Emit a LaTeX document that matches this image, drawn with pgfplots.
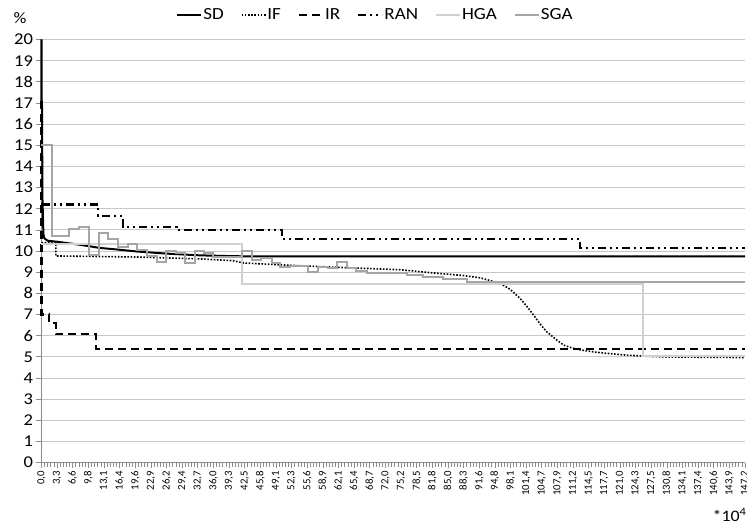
\documentclass[border=0pt]{standalone}
\usepackage{fontspec}
\setmainfont{Carlito}
\newfontfamily\widefont[FakeStretch=1.12]{Carlito}
\usepackage{pgfplots}
\pgfplotsset{compat=1.18}
\definecolor{hga}{RGB}{208,208,208}
\definecolor{sga}{RGB}{165,165,165}
\definecolor{gridc}{RGB}{200,200,200}
\definecolor{axisc}{RGB}{140,140,140}
\begin{document}
\begin{tikzpicture}
\begin{axis}[
 at={(0pt,0pt)}, anchor=south west,
 width=703.6pt, height=423.2pt, scale only axis,
 xmin=0, xmax=147.2, ymin=0, ymax=20,
 clip=false,
 axis x line*=bottom, axis y line*=left,
 axis line style={axisc, line width=1pt, -},
 ytick={0,...,20},
 ymajorgrids, major grid style={gridc, line width=1pt},
 xtick={0,3.27111,...,147.25},
 xticklabels={{0,0},{3,3},{6,6},{9,8},{13,1},{16,4},{19,6},{22,9},{26,2},{29,4},{32,7},{36,0},{39,3},{42,5},{45,8},{49,1},{52,3},{55,6},{58,9},{62,1},{65,4},{68,7},{72,0},{75,2},{78,5},{81,8},{85,0},{88,3},{91,6},{94,8},{98,1},{101,4},{104,7},{107,9},{111,2},{114,5},{117,7},{121,0},{124,3},{127,5},{130,8},{134,1},{137,4},{140,6},{143,9},{147,2}},
 minor x tick num=4,
 tick style={axisc, line width=0.8pt},
 major tick length=5pt, minor tick length=4pt,
 tick align=outside,
 xticklabel style={rotate=90, anchor=east, font=\fontsize{10.8}{12}\selectfont},
 yticklabel style={font=\widefont\fontsize{16.5}{19}\selectfont},
 /pgf/number format/assume math mode=true,
 legend style={draw=none, fill=none, at={(axis description cs:0.474,1.058)}, anchor=center, legend columns=-1, font=\widefont\fontsize{17}{20}\selectfont, /tikz/every even column/.append style={column sep=16pt}, /tikz/every odd column/.append style={column sep=0pt}, nodes={inner xsep=1pt}},
 legend image code/.code={\draw[#1] (0pt,0pt) -- (24pt,0pt);},
]
% SD
\addplot[black, line width=2pt, line join=round] coordinates {
(0,20) (0,17.1) (0.1,17.1) (0.2,12.5) (0.4,10.8) (0.6,10.6) (1.3,10.49) (3.3,10.44) (8,10.3) (12.2,10.15) (15.6,10.08) (20,9.98) (26.2,9.88) (33,9.8) (40,9.76) (43.6,9.75) (147.2,9.75)};
\addlegendentry{SD}
% IF
\addplot[black, line width=1.6pt, dash pattern=on 1.6pt off 1.6pt] coordinates {
(0,10.4) (3.0,10.4) (3.0,9.77) (10,9.75) (20,9.72) (26,9.68) (33.2,9.63) (40,9.55) (42.2,9.44) (50,9.35) (60,9.25) (75,9.12) (81.9,8.97) (88,8.85) (91.7,8.74) (95.9,8.48) (98,8.2) (100.1,7.77) (101.5,7.4) (103.2,6.9) (104.5,6.5) (105.7,6.19) (107.5,5.85) (109.2,5.56) (111,5.42) (112.7,5.33) (116,5.22) (119.6,5.14) (122,5.09) (125.8,5.04) (130,5.0) (140,4.98) (147.2,4.97)};
\addlegendentry{IF}
% IR
\addplot[black, line width=2.2pt, dash pattern=on 8pt off 5pt] coordinates {
(0,17.1) (0,7.0) (1.6,7.0) (1.6,6.6) (3.0,6.6) (3.0,6.08) (11.4,6.08) (11.4,5.37) (147.2,5.37)};
\addlegendentry{IR}
% RAN
\addplot[black, line width=2.2pt, dash pattern=on 8pt off 4pt on 2pt off 4pt on 2pt off 4pt] coordinates {
(0,12.2) (11.8,12.2) (11.8,11.66) (17.1,11.66) (17.1,11.15) (28.3,11.15) (28.3,11.0) (50.3,11.0) (50.3,10.57) (112.7,10.57) (112.7,10.13) (147.2,10.13)};
\addlegendentry{RAN}
% HGA
\addplot[hga, line width=2pt] coordinates {
(0,10.34) (41.9,10.34) (41.9,8.45) (125.9,8.45) (125.9,5.02) (147.2,5.02)};
\addlegendentry{HGA}
% SGA
\addplot[sga, line width=2pt] coordinates {
(0,15) (2.2,15) (2.2,10.71) (5.8,10.71) (5.8,11.04) (7.9,11.04) (7.9,11.12) (10.0,11.12) (10.0,9.8) (12.1,9.8) (12.1,10.84) (14.0,10.84) (14.0,10.56) (16.1,10.56) (16.1,10.21) (18.0,10.21) (18.0,10.34) (20.0,10.34) (20.0,10.05) (22.0,10.05) (22.0,9.77) (24.1,9.77) (24.1,9.5) (26.0,9.5) (26.0,10.0) (28.1,10.0) (28.1,9.9) (30.0,9.9) (30.0,9.42) (32.1,9.42) (32.1,10.0) (34.0,10.0) (34.0,9.9) (35.9,9.9) (35.9,9.74) (41.9,9.74) (41.9,10.0) (44,10.0) (44,9.58) (46,9.58) (46,9.66) (48.2,9.66) (48.2,9.42) (49.9,9.42) (49.9,9.23) (52,9.23) (52,9.3) (55.8,9.3) (55.8,9.03) (57.9,9.03) (57.9,9.26) (60,9.26) (60,9.19) (61.8,9.19) (61.8,9.5) (63.9,9.5) (63.9,9.19) (65.9,9.19) (65.9,9.07) (68,9.07) (68,8.98) (76.4,8.98) (76.4,8.87) (79.9,8.87) (79.9,8.76) (84.1,8.76) (84.1,8.67) (89,8.67) (89,8.55) (147.2,8.55)};
\addlegendentry{SGA}
\node[font=\widefont\fontsize{16}{19}\selectfont] at (axis description cs:-0.0306,1.051) {\%};
\node[font=\widefont\fontsize{16}{19}\selectfont] at (axis description cs:0.978,-0.124) {*10\textsuperscript{4}};
\end{axis}
\pgfresetboundingbox
\useasboundingbox (-41.5pt,-63.3pt) rectangle (705.5pt,462.7pt);
\end{tikzpicture}
\end{document}
